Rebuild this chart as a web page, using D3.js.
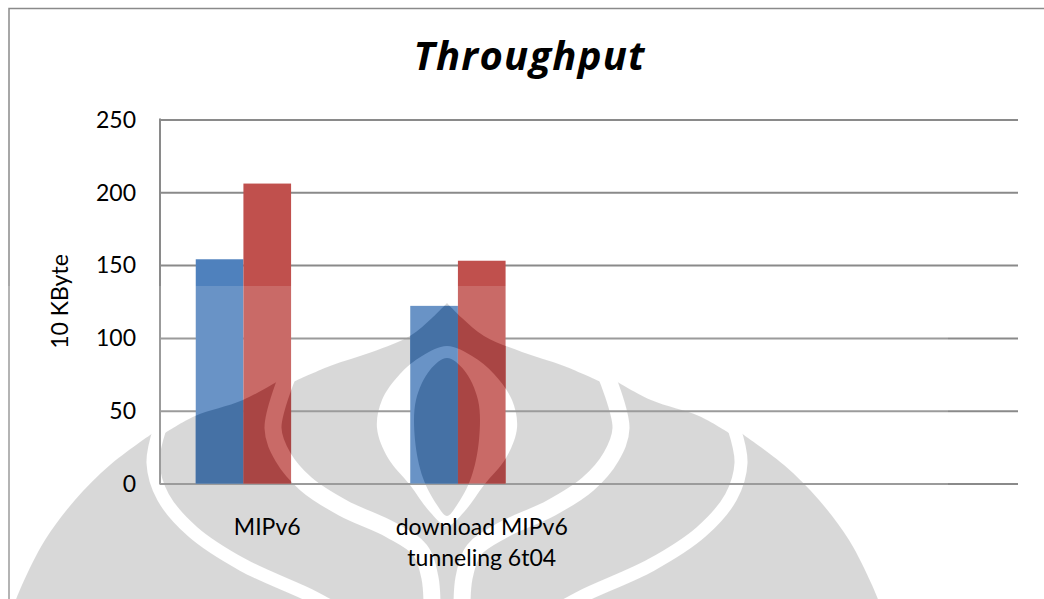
<!DOCTYPE html>
<html>
<head>
<meta charset="utf-8">
<script src="https://cdn.jsdelivr.net/npm/d3@7"></script>
<style>
  html, body { margin: 0; padding: 0; background: #fff; }
  svg { display: block; }
  text { font-family: Lato, "Open Sans", sans-serif; fill: #000; }
</style>
</head>
<body>
<svg id="chart" width="1044" height="599"></svg>
<script>
// ---- data ----
const categories = ["MIPv6", "download MIPv6\ntunneling 6t04", "", ""];
const seriesNames = ["Series 1", "Series 2", "Series 3"];
const series1 = [154, 122, null, null];
const series2 = [206, 153, null, null];
const series3 = [null, null, null, null];
const yTicks = [0, 50, 100, 150, 200, 250];
const titleText = "Throughput";
const yTitle = "10 KByte";

// ---- styles ----
const barColors = ["#4f81bd", "#c0504d", "#9bbb59"];
const shadedColors = ["#4571a5", "#a94544", "#86a04c"];
const gridColor = "#8a8a8a";

const W = 1044, H = 599;
const plot = { left: 160, right: 1018, top: 119.5, bottom: 483.5 };

const svg = d3.select("#chart");
const defs = svg.append("defs");

// ---- background emblem (faint, behind the plot) ----
const AXIS = 447;
const mirror = p => [2 * AXIS - p[0], p[1]];
const smooth = d3.line().curve(d3.curveCatmullRom.alpha(0.5));
const smoothClosed = d3.line().curve(d3.curveCatmullRomClosed.alpha(0.5));

function chain(segs) {
  return segs.map((s, i) => {
    const d = smooth(s);
    return i === 0 ? d : "L" + d.slice(1);
  }).join("") + "Z";
}
function symmetric(half) {
  const back = half.slice(1, -1).reverse().map(mirror);
  return half.concat(back);
}

const outlineLeft = [
  [[10, 615], [22, 585], [45, 540], [75, 500], [110, 465], [153, 433]],
  [[153, 433], [165, 433]],
  [[165, 433], [195, 416], [243, 400], [285, 377]],
  [[285, 377], [293, 382]],
  [[293, 382], [330, 366], [372, 352], [410, 336], [432, 318], [447, 303]]
];
const outlineRight = outlineLeft.slice().reverse().map(s => s.slice().reverse().map(mirror));
const outlinePath = chain(outlineLeft.concat(outlineRight));

const bandOuter = [[160, 428], [153, 463], [163, 497], [193, 532], [243, 565], [313, 597], [350, 618]];
const bandInner = [[289, 372], [273, 428], [283, 457], [306, 484], [343, 508], [391, 530], [420, 550], [430, 578], [432, 618]];
const holeHalf = [[447, 346], [422, 356], [400, 374], [382, 400], [377, 428], [388, 458], [410, 485], [430, 512], [447, 526]];
const coreHalf = [[447, 358], [430, 370], [416, 400], [415, 440], [423, 478], [437, 505], [447, 516]];

const mask = defs.append("mask")
  .attr("id", "emblemMask")
  .attr("maskUnits", "userSpaceOnUse")
  .attr("x", 0).attr("y", 0).attr("width", W).attr("height", H);
mask.append("path").attr("d", outlinePath).attr("fill", "#fff");
[[bandOuter, 13], [bandInner, 17]].forEach(([b, w]) => {
  [b, b.map(mirror)].forEach(pts => {
    mask.append("path").attr("d", smooth(pts))
      .attr("fill", "none").attr("stroke", "#000").attr("stroke-width", w);
  });
});
mask.append("path").attr("d", smoothClosed(symmetric(holeHalf))).attr("fill", "#000");
mask.append("path").attr("d", smoothClosed(symmetric(coreHalf))).attr("fill", "#fff");
mask.append("rect").attr("x", 0).attr("y", 0).attr("width", 10).attr("height", H).attr("fill", "#000");

// ---- scales ----
const x = d3.scaleBand()
  .domain(d3.range(categories.length))
  .range([plot.left, plot.right])
  .paddingInner(1 / 3)
  .paddingOuter(1 / 6);
const xs = d3.scaleBand()
  .domain(d3.range(seriesNames.length))
  .range([0, x.bandwidth()]);
const y = d3.scaleLinear().domain([0, 250]).range([plot.bottom, plot.top]);

const allSeries = [series1, series2, series3];
const barData = [];
allSeries.forEach((vals, s) => vals.forEach((v, c) => {
  if (v != null) barData.push({ s, c, v });
}));

// ---- frame ----
svg.append("rect").attr("width", W).attr("height", H).attr("fill", "#fff");
svg.append("path")
  .attr("d", `M9,${H + 2}V8.5H${W + 2}`)
  .attr("fill", "none").attr("stroke", "#8a8a8a").attr("stroke-width", 1.5);

// emblem tint
svg.append("rect").attr("width", W).attr("height", H)
  .attr("fill", "#d2d2d2").attr("mask", "url(#emblemMask)");

// ---- gridlines + axes ----
const gridAxis = d3.axisLeft(y)
  .tickValues(yTicks)
  .tickSize(-(plot.right - plot.left))
  .tickFormat("");
const g = svg.append("g").attr("transform", `translate(${plot.left},0)`).call(gridAxis);
g.select(".domain").remove();
g.selectAll(".tick line").attr("stroke", gridColor).attr("stroke-width", 2);

svg.append("line")
  .attr("x1", plot.left).attr("x2", plot.left)
  .attr("y1", plot.top - 1).attr("y2", plot.bottom + 1)
  .attr("stroke", gridColor).attr("stroke-width", 2);

// ---- bars ----
function drawBars(cls, colors, extra) {
  const sel = svg.append("g").attr("class", cls);
  if (extra) extra(sel);
  sel.selectAll("rect")
    .data(barData)
    .join("rect")
    .attr("x", d => x(d.c) + xs(d.s))
    .attr("width", xs.bandwidth())
    .attr("y", d => y(d.v))
    .attr("height", d => y(0) - y(d.v))
    .attr("fill", d => colors[d.s]);
}
drawBars("bars", barColors);

// light veil over the lower part of the page
svg.append("rect")
  .attr("x", 0).attr("y", 286).attr("width", 948).attr("height", H - 286)
  .attr("fill", "#fff").attr("opacity", 0.15);

// bars where the emblem passes behind them
drawBars("bars-shaded", shadedColors, sel => sel.attr("mask", "url(#emblemMask)"));

// ---- y tick labels ----
svg.append("g").selectAll("text")
  .data(yTicks)
  .join("text")
  .attr("x", 136)
  .attr("y", d => y(d))
  .attr("dy", "0.36em")
  .attr("text-anchor", "end")
  .attr("font-size", 23)
  .text(d => d);

// ---- category labels ----
const catG = svg.append("g");
categories.forEach((c, i) => {
  if (!c) return;
  const t = catG.append("text")
    .attr("text-anchor", "middle")
    .attr("font-size", 23);
  c.split("\n").forEach((line, k) => {
    t.append("tspan")
      .attr("x", x(i) + x.bandwidth() / 2)
      .attr("y", 535 + k * 31)
      .text(line);
  });
});

// ---- axis title ----
svg.append("text")
  .attr("transform", `translate(68,${(plot.top + plot.bottom) / 2}) rotate(-90)`)
  .attr("text-anchor", "middle")
  .attr("font-size", 23)
  .text(yTitle);

// ---- chart title ----
svg.append("text")
  .attr("x", 529)
  .attr("y", 70)
  .attr("text-anchor", "middle")
  .style("font-family", "'Open Sans', sans-serif")
  .attr("font-weight", "bold")
  .attr("font-style", "italic")
  .attr("font-size", 40)
  .attr("textLength", 231)
  .attr("lengthAdjust", "spacing")
  .text(titleText);
</script>
</body>
</html>
